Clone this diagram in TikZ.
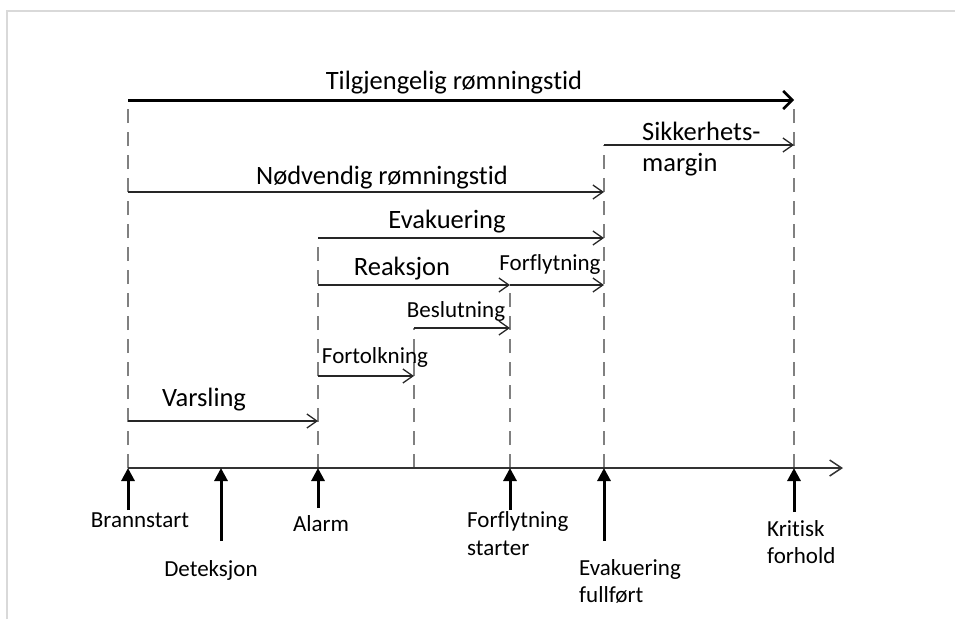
\documentclass[tikz,border=0pt]{standalone}
\usepackage{fontspec}
\setmainfont{Carlito}[Ligatures={NoCommon}]
\usetikzlibrary{arrows.meta}

\tikzset{
    ramme/.style={draw=black!15, line width=2pt},
    akse/.style={draw=black!80, line width=1.5pt, -{Straight Barb[length=12pt,width=16pt,line width=1.5pt]}},
    tid/.style={draw=black!85, line width=1.3pt, -{Straight Barb[length=10pt,width=14pt,line width=1.3pt]}},
    tidtykk/.style={draw=black, line width=3pt, -{Straight Barb[length=9pt,width=18pt,line width=2.5pt]}},
    hjelpelinje/.style={draw=black!50, line width=2pt, dash pattern=on 14pt off 9pt},
    hendelse/.style={draw=black, line width=3pt, -{Triangle[length=13pt,width=13pt]}},
    etikett/.style={font=\fontsize{23}{28}\selectfont, text=black, inner sep=0pt},
    stor/.style={font=\fontsize{26.5}{31}\selectfont},
}

\begin{document}
\begin{tikzpicture}[x=1pt, y=-1pt]
    \useasboundingbox (0,0) rectangle (955,619);
    \draw[ramme] (7,619) -- (7,11) -- (955,11);

    % tidspunkter paa aksen
    \coordinate (brann) at (128,468);
    \coordinate (deteksjon) at (221,468);
    \coordinate (alarm) at (318,468);
    \coordinate (beslutt) at (414,468);
    \coordinate (forflytt) at (510,468);
    \coordinate (evak) at (604,468);
    \coordinate (kritisk) at (794,468);
    \coordinate (akseslutt) at (843,468);

    % nivaa for pilene
    \coordinate (nTilg) at (0,100);
    \coordinate (nMargin) at (0,145);
    \coordinate (nNodv) at (0,192);
    \coordinate (nEvak) at (0,238);
    \coordinate (nReak) at (0,285);
    \coordinate (nBesl) at (0,328);
    \coordinate (nFort) at (0,376);
    \coordinate (nVars) at (0,421);

    % stiplede hjelpelinjer
    \foreach \t/\n in {brann/nTilg, kritisk/nTilg, evak/nMargin, alarm/nEvak, forflytt/nReak, beslutt/nBesl}
        \draw[hjelpelinje] (\t) -- (\t |- \n);

    \draw[akse] (brann) -- (akseslutt);

    % tidsrom
    \draw[tidtykk] (brann |- nTilg) -- (kritisk |- nTilg);
    \draw[tid] (evak |- nMargin) -- (kritisk |- nMargin);
    \draw[tid] (brann |- nNodv) -- (evak |- nNodv);
    \draw[tid] (alarm |- nEvak) -- (evak |- nEvak);
    \draw[tid] (alarm |- nReak) -- (forflytt |- nReak);
    \draw[tid] (forflytt |- nReak) -- (evak |- nReak);
    \draw[tid] (beslutt |- nBesl) -- (forflytt |- nBesl);
    \draw[tid] (alarm |- nFort) -- (beslutt |- nFort);
    \draw[tid] (brann |- nVars) -- (alarm |- nVars);

    \node[etikett, stor, anchor=base] (lTilg) at (454,89) {Tilgjengelig rømningstid};
    \node[etikett, stor, anchor=base west, align=left] (lMargin) at (642,171) {Sikkerhets-\\margin};
    \node[etikett, stor, anchor=base] (lNodv) at (382,184) {Nødvendig rømningstid};
    \node[etikett, stor, anchor=base] (lEvak) at (447,228) {Evakuering};
    \node[etikett, stor, anchor=base] (lReak) at (402,275) {Reaksjon};
    \node[etikett, anchor=base] (lForfl) at (550,270) {Forflytning};
    \node[etikett, anchor=base] (lBesl) at (456,317) {Beslutning};
    \node[etikett, anchor=base] (lFort) at (375,363) {Fortolkning};
    \node[etikett, stor, anchor=base] (lVars) at (204,406) {Varsling};

    % hendelser under aksen
    \coordinate (sBrann) at (128,510);
    \coordinate (sDeteksjon) at (221,541);
    \coordinate (sAlarm) at (318,508);
    \coordinate (sForflytt) at (510,510);
    \coordinate (sEvak) at (604,541);
    \coordinate (sKritisk) at (794,512);
    \draw[hendelse] (sBrann) -- (brann);
    \draw[hendelse] (sDeteksjon) -- (deteksjon);
    \draw[hendelse] (sAlarm) -- (alarm);
    \draw[hendelse] (sForflytt) -- (forflytt);
    \draw[hendelse] (sEvak) -- (evak);
    \draw[hendelse] (sKritisk) -- (kritisk);

    \node[etikett, anchor=base] (hBrann) at (140,527) {Brannstart};
    \node[etikett, anchor=base] (hDeteksjon) at (211,576) {Deteksjon};
    \node[etikett, anchor=base] (hAlarm) at (321,531) {Alarm};
    \node[etikett, anchor=base west, align=left] (hForflytt) at (467,555) {Forflytning\\starter};
    \node[etikett, anchor=base west, align=left, font=\fontsize{23}{27}\selectfont] (hEvak) at (579,602) {Evakuering\\fullført};
    \node[etikett, anchor=base west, align=left, font=\fontsize{23}{27}\selectfont] (hKritisk) at (767,563) {Kritisk\\forhold};
\end{tikzpicture}
\end{document}
